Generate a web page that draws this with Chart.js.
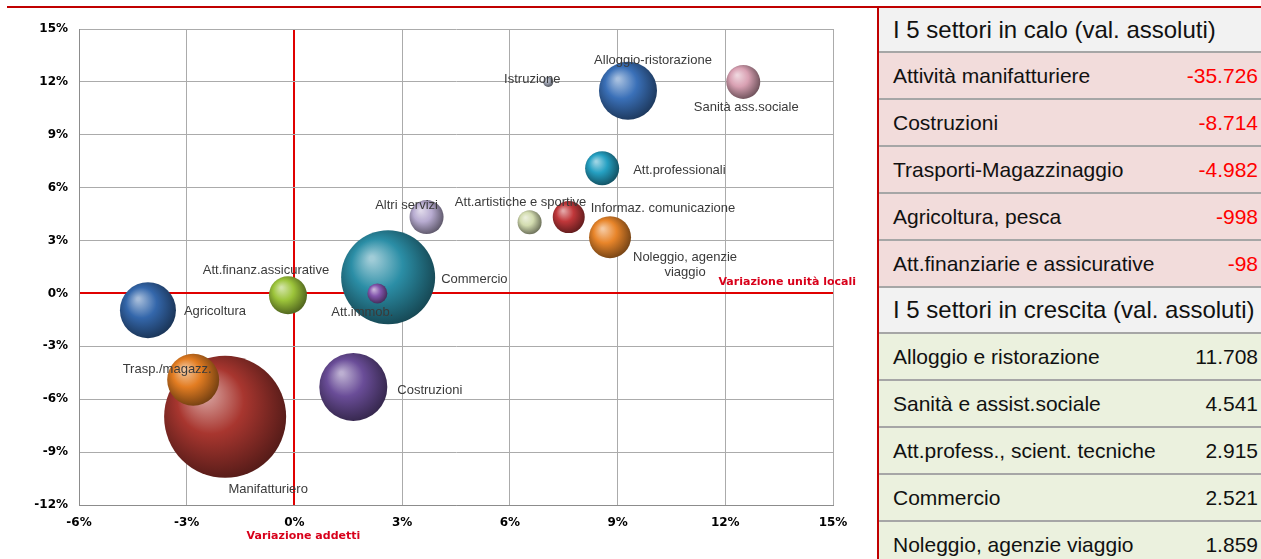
<!DOCTYPE html>
<html>
<head>
<meta charset="utf-8">
<script src="https://cdn.jsdelivr.net/npm/chart.js"></script>
<style>
  html, body { margin: 0; padding: 0; background: #fff; }
  #wrap { position: relative; width: 1261px; height: 559px; overflow: hidden; font-family: "Liberation Sans", Arial, sans-serif; }
  #topline { position: absolute; left: 7px; top: 6px; width: 1254px; height: 2px; background: #c00000; }
  #vline { position: absolute; left: 877px; top: 6px; width: 2px; height: 553px; background: #c00000; }
  #chart { position: absolute; left: 0; top: 0; }
  #tbl { position: absolute; left: 879px; top: 8px; width: 382px; }
  .row { box-sizing: border-box; height: 47px; border-bottom: 2px solid #a6a6a6; display: flex; align-items: center; justify-content: space-between; padding: 0 3px 0 14px; font-size: 21px; color: #111; }
  .head { background: #f2f2f2; font-size: 24px; height: 45px; }
  .down { background: #f2dcdb; }
  .up { background: #ebf1de; }
  .neg { color: #ff0000; }
</style>
</head>
<body>
<div id="wrap">
  <canvas id="chart" width="870" height="559"></canvas>
  <div id="topline"></div>
  <div id="vline"></div>
  <div id="tbl"></div>
</div>
<script>
// sectors in drawing order (big bubbles first so small ones sit on top)
const sectorLabels = ['Manifatturiero', 'Trasp./magazz.', 'Commercio', 'Att.immob.', 'Agricoltura',
  'Att.finanz.assicurative', 'Costruzioni', 'Altri servizi', 'Att.artistiche e sportive',
  'Informaz. comunicazione', 'Noleggio, agenzie\nviaggio', 'Att.professionali',
  'Alloggio-ristorazione', 'Sanità ass.sociale', 'Istruzione'];
// variazione addetti (%)
const addetti = [-1.93, -2.82, 2.61, 2.31, -4.08, -0.18, 1.64, 3.68, 6.55, 7.64, 8.79, 8.57, 9.29, 12.5, 7.07];
// variazione unità locali (%)
const unitaLocali = [-7.0, -4.9, 0.92, 0.0, -0.95, -0.1, -5.3, 4.33, 4.04, 4.33, 3.19, 7.1, 11.5, 12.0, 12.0];
// bubble size (radius)
const bubbleSize = [61, 26, 47, 10, 28, 19, 34, 17, 12, 16, 21, 17, 29, 17, 5];

const sectorColors = ['#a8362f', '#e37d22', '#2b8ea6', '#8456ad', '#3467ab', '#9cc43a', '#6a4d98',
  '#b7abd0', '#d3dcb0', '#c0373a', '#e8852a', '#25a0c2', '#3a70b8', '#d9a1b3', '#a0a6b6'];

// label placement relative to bubble centre: dx, dy, align
const labelOffsets = [[43, 73, 'center'], [-26, -10, 'center'], [53, 2, 'left'], [-15, 19, 'center'],
  [36, 1, 'left'], [-22, -25, 'center'], [44, 4, 'left'], [-20, -12, 'center'], [-9, -20, 'center'],
  [22, -9, 'left'], [75, 20, 'center'], [31, 2, 'left'], [25, -30, 'center'], [3, 26, 'center'], [-16, -2, 'center']];

const ticksX = [-6, -3, 0, 3, 6, 9, 12, 15];
const ticksY = [-12, -9, -6, -3, 0, 3, 6, 9, 12, 15];

// right-hand table
const calloNames = ['Attività manifatturiere', 'Costruzioni', 'Trasporti-Magazzinaggio', 'Agricoltura, pesca', 'Att.finanziarie e assicurative'];
const calloValues = ['-35.726', '-8.714', '-4.982', '-998', '-98'];
const crescitaNames = ['Alloggio e ristorazione', 'Sanità e assist.sociale', 'Att.profess., scient. tecniche', 'Commercio', 'Noleggio, agenzie viaggio'];
const crescitaValues = ['11.708', '4.541', '2.915', '2.521', '1.859'];

function buildTable() {
  const t = document.getElementById('tbl');
  let html = '<div class="row head">I 5 settori in calo (val. assoluti)</div>';
  calloNames.forEach((n, i) => {
    html += `<div class="row down"><span>${n}</span><span class="neg">${calloValues[i]}</span></div>`;
  });
  html += '<div class="row head" style="height:46px">I 5 settori in crescita (val. assoluti)</div>';
  crescitaNames.forEach((n, i) => {
    html += `<div class="row up"><span>${n}</span><span>${crescitaValues[i]}</span></div>`;
  });
  t.innerHTML = html;
}
buildTable();

function shade(hex, amt) {
  const n = parseInt(hex.slice(1), 16);
  let r = (n >> 16) & 255, g = (n >> 8) & 255, b = n & 255;
  const t = amt > 0 ? 255 : 0, p = Math.abs(amt);
  r = Math.round(r + (t - r) * p); g = Math.round(g + (t - g) * p); b = Math.round(b + (t - b) * p);
  return `rgb(${r},${g},${b})`;
}

function sphereFill(ctx) {
  const base = sectorColors[ctx.dataIndex];
  const chart = ctx.chart;
  if (ctx.type !== 'data' || !chart.chartArea) return base;
  const cx = chart.scales.x.getPixelForValue(ctx.raw.x);
  const cy = chart.scales.y.getPixelForValue(ctx.raw.y);
  const r = ctx.raw.r;
  const g = chart.ctx.createRadialGradient(cx - r * 0.35, cy - r * 0.4, r * 0.05, cx - r * 0.1, cy - r * 0.1, r * 1.15);
  g.addColorStop(0, shade(base, 0.55));
  g.addColorStop(0.45, base);
  g.addColorStop(1, shade(base, -0.5));
  return g;
}

const red = '#e00000';
const gridGray = '#ababab';

const labelPlugin = {
  id: 'sectorLabels',
  afterDatasetsDraw(chart) {
    const c = chart.ctx;
    const meta = chart.getDatasetMeta(0);
    c.save();
    c.font = '13px "Liberation Sans", Arial, sans-serif';
    c.fillStyle = '#3a3a3a';
    c.textBaseline = 'middle';
    meta.data.forEach((pt, i) => {
      const [dx, dy, align] = labelOffsets[i];
      c.textAlign = align;
      sectorLabels[i].split('\n').forEach((ln, k) => c.fillText(ln, pt.x + dx, pt.y + dy + k * 15));
    });
    // axis captions
    const xs = chart.scales.x, ys = chart.scales.y, area = chart.chartArea;
    c.font = 'bold 11px "DejaVu Sans", Arial, sans-serif';
    c.fillStyle = '#d8001a';
    c.textAlign = 'center';
    c.fillText('Variazione addetti', xs.getPixelForValue(0) + 9, area.bottom + 31);
    c.textAlign = 'right';
    c.fillText('Variazione unità locali', area.right + 23, ys.getPixelForValue(0) - 11);
    c.restore();
  }
};

const tickFont = { family: '"DejaVu Sans", Arial, sans-serif', size: 12, weight: 'bold' };

new Chart(document.getElementById('chart'), {
  type: 'bubble',
  data: {
    datasets: [{
      data: addetti.map((x, i) => ({ x, y: unitaLocali[i], r: bubbleSize[i] })),
      backgroundColor: sphereFill,
      borderWidth: 0
    }]
  },
  options: {
    responsive: false,
    animation: false,
    devicePixelRatio: 1,
    events: [],
    layout: { autoPadding: false, padding: { left: 0, top: 29, right: 37, bottom: 0 } },
    plugins: { legend: { display: false }, tooltip: { enabled: false } },
    scales: {
      x: {
        type: 'linear',
        min: ticksX[0], max: ticksX[ticksX.length - 1],
        afterBuildTicks: s => { s.ticks = ticksX.map(v => ({ value: v })); },
        afterFit: s => { s.height = 54; },
        ticks: { padding: 11, color: '#000', font: tickFont, callback: v => v + '%' },
        grid: {
          drawTicks: false,
          color: c => c.tick && c.tick.value === 0 ? red : gridGray,
          lineWidth: c => c.tick && c.tick.value === 0 ? 2 : 1
        },
        border: { color: '#8c8c8c', width: 1 }
      },
      y: {
        min: ticksY[0], max: ticksY[ticksY.length - 1],
        afterBuildTicks: s => { s.ticks = ticksY.map(v => ({ value: v })); },
        afterFit: s => { s.width = 79; },
        ticks: { padding: 11, color: '#000', font: tickFont, callback: v => v + '%' },
        grid: {
          drawTicks: false,
          color: c => c.tick && c.tick.value === 0 ? red : gridGray,
          lineWidth: c => c.tick && c.tick.value === 0 ? 2 : 1
        },
        border: { color: '#8c8c8c', width: 1 }
      }
    }
  },
  plugins: [labelPlugin]
});
</script>
</body>
</html>
